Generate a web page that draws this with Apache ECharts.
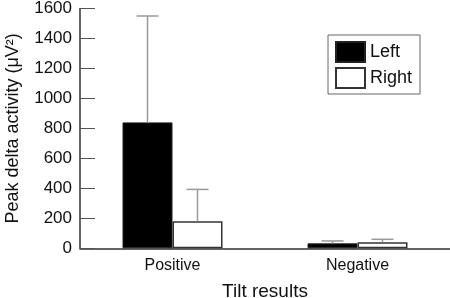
<!DOCTYPE html>
<html><head><meta charset="utf-8">
<script src="https://cdn.jsdelivr.net/npm/echarts@6/dist/echarts.min.js"></script>
<style>html,body{margin:0;padding:0;background:#fff}#c{width:450px;height:298px}</style>
</head><body><div id="c"></div>
<script>
const categories = ['Positive', 'Negative'];
const leftValues = [840, 33];
const leftErrors = [1550, 49];
const rightValues = [180, 40];
const rightErrors = [393, 60];
const yTicks = [0, 200, 400, 600, 800, 1000, 1200, 1400, 1600];

const FONT = 'Liberation Sans';
const BAR_W = 50;
function errSeries(name, vals, tops, offset) {
  return {
    type: 'custom', name: name + ' err', z: 5, silent: true,
    data: vals.map((v, i) => [i, v, tops[i]]),
    renderItem: function (params, api) {
      const base = api.coord([api.value(0), api.value(1)]);
      const top = api.coord([api.value(0), api.value(2)]);
      const x = base[0] + offset;
      return {
        type: 'group', children: [
          { type: 'line', shape: { x1: x, y1: base[1], x2: x, y2: top[1] }, style: { stroke: '#999', lineWidth: 1.5 } },
          { type: 'line', shape: { x1: x - 11, y1: top[1], x2: x + 11, y2: top[1] }, style: { stroke: '#999', lineWidth: 1.5 } }
        ]
      };
    }
  };
}
const chart = echarts.init(document.getElementById('c'));
chart.setOption({
  animation: false,
  textStyle: { fontFamily: FONT },
  grid: { left: 80, right: 0, top: 8.5, bottom: 49.7, containLabel: false, outerBoundsMode: 'none' },
  legend: {
    data: ['Left', 'Right'], orient: 'vertical', left: 328, top: 35,
    icon: 'rect',
    itemWidth: 29, itemHeight: 20, itemGap: 4,
    padding: [6, 8, 5, 7], borderColor: '#666', borderWidth: 1,
    textStyle: { fontSize: 18, color: '#111', fontFamily: FONT },
    selectedMode: false
  },
  xAxis: {
    type: 'category', data: categories,
    axisLine: { lineStyle: { color: '#333', width: 1.5 } },
    axisTick: { inside: true, length: 14, lineStyle: { color: '#555' } },
    axisLabel: { fontSize: 16, color: '#111', margin: 9 },
    name: 'Tilt results', nameLocation: 'middle', nameGap: 34,
    nameTextStyle: { fontSize: 19, color: '#111' }
  },
  yAxis: {
    type: 'value', min: yTicks[0], max: yTicks[yTicks.length - 1], interval: 200,
    axisLine: { show: true, lineStyle: { color: '#333', width: 1.5 } },
    axisTick: { show: true, inside: true, length: 15, lineStyle: { color: '#555' } },
    axisLabel: { fontSize: 17, color: '#111', margin: 8, formatter: v => String(v) },
    splitLine: { show: false },
    name: 'Peak delta activity (μV²)', nameLocation: 'middle', nameGap: 58,
    nameTextStyle: { fontSize: 18, color: '#111' }
  },
  series: [
    { type: 'bar', name: 'Left', data: leftValues, barWidth: BAR_W, barGap: '0%',
      itemStyle: { color: '#000', borderColor: '#222', borderWidth: 1 } },
    { type: 'bar', name: 'Right', data: rightValues, barWidth: BAR_W,
      itemStyle: { color: '#fff', borderColor: '#333', borderWidth: 1.5 } },
    errSeries('Left', leftValues, leftErrors, -BAR_W / 2),
    errSeries('Right', rightValues, rightErrors, BAR_W / 2)
  ]
});
</script></body></html>
